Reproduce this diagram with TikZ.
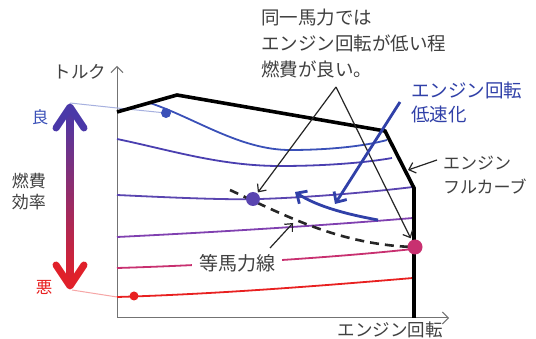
\documentclass[tikz,border=0pt]{standalone}
\usepackage{fontspec}
\newfontfamily\jp{Noto Sans CJK JP}
\usetikzlibrary{arrows.meta}
\definecolor{txt}{HTML}{404040}
\definecolor{cA}{HTML}{3A50B8}
\definecolor{cB}{HTML}{4A3FB0}
\definecolor{cC}{HTML}{5A45B0}
\definecolor{cD}{HTML}{8040B0}
\definecolor{cE}{HTML}{C83070}
\definecolor{cF}{HTML}{E82020}
\definecolor{ablue}{HTML}{3040A8}
\definecolor{gtop}{HTML}{4A38A8}
\definecolor{gmid}{HTML}{8A2A90}
\definecolor{gbot}{HTML}{E0202A}
\begin{document}
\begin{tikzpicture}[x=1pt,y=-1pt,
  lbl/.style={font=\jp\fontsize{17.5}{24}\selectfont, text=txt, inner sep=0pt, align=left},
  contour/.style={line width=1.8pt},
  axis/.style={draw=black!55, line width=1pt, -{Straight Barb[length=6pt,width=12pt,line width=1pt]}},
  pointer/.style={draw=black!85, line width=1.2pt, -{Straight Barb[length=6pt,width=11pt]}},
  bluearrow/.style={draw=ablue, line width=2.8pt, -{Straight Barb[length=8pt,width=15pt]}},
  dot/.style={circle, inner sep=0pt, minimum size=#1},
  headstroke/.style={line width=7pt, line cap=round, line join=round}
]
\useasboundingbox (0,0) rectangle (536,339);
\fill[white] (0,0) rectangle (536,339);

% axes
\coordinate (O) at (117,318);
\coordinate (Ytop) at (117,66);
\coordinate (Xend) at (449,318);
\draw[axis] (O) -- (Ytop);
\draw[axis] (O) -- (Xend);
\node[lbl] (torque) at (80,72) {トルク};
\node[lbl] (rpm) at (390,330) {エンジン回転};

% thin guide lines from efficiency arrow
\coordinate (goodtip) at (70,103);
\coordinate (badtip) at (72,290);
\draw[draw=cA!45, line width=1pt] (goodtip) -- (117,108) -- (166,113);
\draw[draw=cF!40, line width=1pt] (badtip) -- (117,297);

% contours
\draw[contour, cA] (150,103) .. controls (195,118) and (240,150) .. (290,150) .. controls (330,150) and (365,146) .. (387,140);
\draw[contour, cB] (117,139) .. controls (170,150) and (220,166) .. (280,166) .. controls (330,166) and (370,162) .. (392,158);
\draw[contour, cC] (117,195) .. controls (180,198) and (230,200) .. (260,199) .. controls (320,197) and (380,191) .. (413,187);
\draw[contour, cD] (117,237) .. controls (220,232) and (330,225) .. (413,218);
\draw[contour, cE] (117,268) .. controls (220,265) and (340,257) .. (413,249);
\draw[contour, cF] (117,297) .. controls (220,294) and (330,285) .. (413,278);

% full load curve
\coordinate (f1) at (117,112);
\coordinate (f2) at (177,95);
\coordinate (f3) at (385,131);
\coordinate (f4) at (414,188);
\coordinate (f5) at (414,318);
\draw[line width=3.6pt, line join=miter] (f1) -- (f2) -- (f3) -- (f4) -- (f5);

% equal power line
\coordinate (p1) at (230,190);
\coordinate (p2) at (412,247);
\draw[line width=2.6pt, dash pattern=on 9pt off 6pt, black!85] (p1) .. controls (290,218) and (340,244) .. (p2);

% dots
\node[dot=10pt, fill=cA] (d1) at (166,113) {};
\node[dot=14pt, fill=cC] (d2) at (253,199) {};
\node[dot=15pt, fill=cE] (d3) at (415,247) {};
\node[dot=9pt, fill=cF] (d4) at (134,296) {};

% annotation
\node[lbl, anchor=west, font=\jp\fontsize{18.5}{26}\selectfont] (note) at (261,44) {同一馬力では\\エンジン回転が低い程\\燃費が良い。};
\coordinate (apex) at (336,87);
\draw[pointer, shorten >=1pt] (apex) -- (d2);
\draw[pointer, shorten >=2pt] (apex) -- (d3);

% blue annotation
\node[lbl, anchor=west, text=ablue, font=\jp\fontsize{18.5}{24}\selectfont] (slow) at (411,102) {エンジン回転\\低速化};
\coordinate (b1) at (400,102);
\coordinate (b2) at (335,204);
\draw[bluearrow] (b1) -- (b2);
\coordinate (c1) at (378,220);
\coordinate (c2) at (295,192);
\draw[bluearrow] (c1) .. controls (340,213) and (315,205) .. (c2);

% full curve label
\node[lbl, anchor=west, font=\jp\fontsize{17}{24}\selectfont] (full) at (443,175) {エンジン\\フルカーブ};
\coordinate (fa) at (437,160);
\coordinate (fb) at (408,170);
\draw[pointer] (fa) -- (fb);

% equal power label
\node[lbl, fill=white, inner xsep=7pt, inner ysep=2pt, font=\jp\fontsize{19}{24}\selectfont] (eqp) at (237,263) {等馬力線};
\coordinate (ea) at (270,248);
\coordinate (eb) at (293,223);
\draw[pointer] (ea) -- (eb);

% efficiency arrow
\shade[top color=gtop, middle color=gmid, bottom color=gbot] (66.5,110) rectangle (73.5,282);
\draw[headstroke, gtop] (56,128) -- (70,107) -- (84,128);
\draw[headstroke, gbot] (56,265) -- (70,286) -- (84,265);
\node[lbl, text=cA, font=\jp\fontsize{16.5}{24}\selectfont] (good) at (40,117) {良};
\node[lbl, text=cF, font=\jp\fontsize{16.5}{24}\selectfont] (bad) at (44,287) {悪};
\node[lbl, align=center, font=\jp\fontsize{17}{21}\selectfont] (eff) at (29,192) {燃費\\効率};
\end{tikzpicture}
\end{document}
